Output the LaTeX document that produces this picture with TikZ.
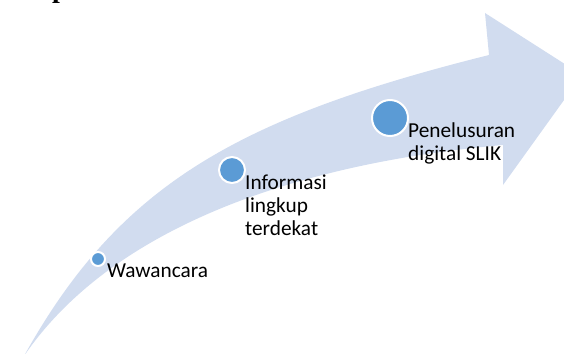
\documentclass[tikz,border=0pt]{standalone}
\usepackage{fontspec}
\setmainfont{Carlito}
\newfontfamily\headfont{Liberation Serif}
\definecolor{bandc}{RGB}{209,220,239}
\definecolor{dotc}{RGB}{91,155,213}
\begin{document}
\begin{tikzpicture}[x=1pt,y=-1pt,
  dot/.style={circle,fill=dotc,draw=white,line width=2pt,inner sep=0pt},
  lbl/.style={anchor=base west,inner sep=0pt,font=\fontsize{21.3}{23}\selectfont,text=black}]
\useasboundingbox (0,0) rectangle (564,353);
\clip (0,0) rectangle (564,353);
% heading fragment (cut off at the top edge, as in the reference)
\node[anchor=base west,inner sep=0pt,font=\headfont\bfseries\fontsize{28}{30}\selectfont] (head) at (52,-2) {p};
% arrow
\fill[bandc] (24,356) .. controls (119,185) and (237,118) .. (489,55)
  -- (485,13) -- (582,75) -- (503,185) -- (503,145)
  .. controls (298,163) and (112,227) .. (24,356) -- cycle;
% dots
\node[dot,minimum size=14pt] (d1) at (98,259) {};
\node[dot,minimum size=26pt] (d2) at (232,170) {};
\node[dot,minimum size=36pt] (d3) at (390,118) {};
% labels
\node[lbl] (t1) at (107,277) {Wawancara};
\node[lbl] (t2) at (245,189) {\begin{tabular}[t]{@{}l@{}}Informasi\\lingkup\\terdekat\end{tabular}};
\node[lbl] (t3) at (408,137) {\begin{tabular}[t]{@{}l@{}}Penelusuran\\digital SLIK\end{tabular}};
\end{tikzpicture}
\end{document}
